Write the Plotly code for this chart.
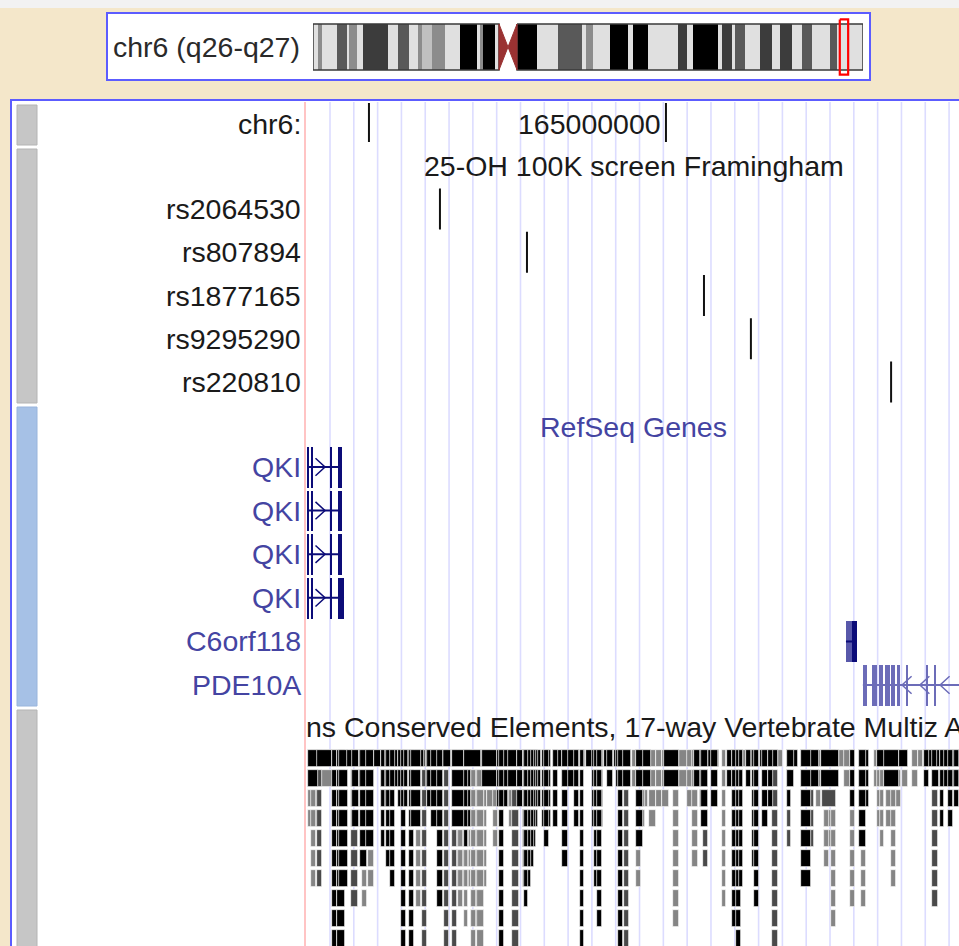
import plotly.graph_objects as go

W, H = 959, 946

# ---------------------------------------------------------------- data
# Ideogram (chr6, Mb)
CHROM_LABEL = "chr6 (q26-q27)"
CHROM_LEN_MB = 170.9
BAND_START_MB = [0.0, 1.6, 2.8, 7.5, 10.6, 11.2, 13.7, 15.5, 23.3, 26.4, 29.8, 32.6, 33.9, 37.0,
                 41.0, 45.7, 51.0, 51.9, 52.8, 56.6,
                 63.4, 69.6, 76.1, 83.6, 84.8, 87.0, 92.3, 97.9, 99.4, 104.1, 113.4, 116.2,
                 118.1, 125.9, 127.1, 130.2, 131.1, 134.2, 138.9, 142.6, 145.1, 148.8, 151.9,
                 155.1, 160.7, 162.8]
BAND_END_MB = [1.6, 2.8, 7.5, 10.6, 11.2, 13.7, 15.5, 23.3, 26.4, 29.8, 32.6, 33.9, 37.0, 41.0,
               45.7, 51.0, 51.9, 52.8, 56.6, 57.8,
               69.6, 76.1, 83.6, 84.8, 87.0, 92.3, 97.9, 99.4, 104.1, 113.4, 116.2, 118.1,
               125.9, 127.1, 130.2, 131.1, 134.2, 138.9, 142.6, 145.1, 148.8, 151.9, 155.1,
               160.7, 162.8, 170.9]
BAND_STAIN = ["gneg", "gpos50", "gneg", "gpos75", "gneg", "gpos50", "gneg", "gpos90", "gneg",
              "gpos75", "gneg", "gpos50", "gpos25", "gpos50", "gneg", "gpos100", "gneg",
              "gpos50", "gpos100", "gneg",
              "gpos100", "gneg", "gpos75", "gneg", "gpos50", "gneg", "gpos100", "gneg",
              "gpos100", "gneg", "gpos90", "gneg", "gpos100", "gneg", "gpos90", "gneg",
              "gpos75", "gneg", "gpos90", "gneg", "gpos90", "gneg", "gpos75", "gneg",
              "gpos75", "gneg"]
CENTROMERE_MB = [57.8, 63.4]

# Browser window (chr6 bp)
WINDOW_START = 164_878_800
WINDOW_END = 165_098_665
RULER_TITLE = "chr6:"
RULER_TICKS = [164_900_000, 165_000_000]
RULER_LABELS = ["", "165000000"]

SNP_TITLE = "25-OH 100K screen Framingham"
SNP_NAMES = ["rs2064530", "rs807894", "rs1877165", "rs9295290", "rs220810"]
SNP_POS = [164_923_900, 164_953_200, 165_012_800, 165_028_600, 165_075_800]

GENE_TITLE = "RefSeq Genes"
GENE_NAMES = ["QKI", "QKI", "QKI", "QKI", "C6orf118", "PDE10A"]
GENE_STRAND = ["+", "+", "+", "+", "-", "-"]
# positions below in kb from WINDOW_START
GENE_TX_KB = [(0.6, 12.1), (0.6, 12.1), (0.6, 12.1), (0.6, 12.8), (181.8, 185.5), (187.5, 240.0)]
GENE_EXONS_KB = [
    [(0.6, 1.1), (1.7, 2.4), (8.1, 8.8), (10.8, 12.1)],
    [(0.6, 1.1), (1.7, 2.4), (8.1, 8.8), (10.8, 12.1)],
    [(0.6, 1.1), (1.7, 2.4), (8.1, 8.8), (10.8, 12.1)],
    [(0.6, 1.1), (1.7, 2.4), (8.1, 8.8), (10.8, 12.8)],
    [(181.8, 183.8), (183.8, 185.5)],
    [(187.5, 188.9), (190.6, 192.3), (192.9, 194.3), (194.9, 196.6), (197.0, 198.3),
     (199.0, 200.0), (202.0, 202.7), (208.7, 209.4), (211.4, 212.1)],
]
GENE_ARROWS_KB = [[6.4], [6.4], [6.4], [6.4], [], [200.7, 206.7, 213.5]]
GENE_COLOR = ["#0c0c78", "#0c0c78", "#0c0c78", "#0c0c78", "#0c0c78", "#6c6cb8"]
GENE_EXON_LIGHT = [[], [], [], [], [0], []]   # exon indexes drawn in lighter shade

CONS_TITLE = "PhastCons Conserved Elements, 17-way Vertebrate Multiz Alignment"
CONS_START_KB = [1.0, 1.0, 2.0, 4.0, 4.0, 5.4, 9.1, 10.8, 11.4, 14.1, 15.5, 15.8, 18.2, 18.5, 19.2,
                 20.5, 21.2, 23.2, 25.6, 25.6, 25.3, 27.3, 28.6, 31.3, 31.3, 32.3, 33.3, 35.0,
                 35.4, 37.4, 39.4, 40.7, 40.7, 41.1, 42.4, 44.4, 46.8, 49.2, 49.2, 51.2, 51.5,
                 53.5, 53.5, 55.2, 55.9, 55.9, 57.9, 53.5, 59.3, 61.3, 63.0, 64.6, 64.6, 65.3,
                 68.0, 68.7, 69.7, 71.4, 73.1, 73.1, 73.1, 73.1, 73.7, 79.5, 80.5, 83.2, 83.2,
                 86.5, 86.5, 90.6, 92.3, 92.3, 94.6, 96.6, 97.3, 98.3, 100.7, 101.7, 104.0,
                 104.7, 105.1, 107.4, 109.8, 111.4, 111.4, 111.4, 113.1, 113.1, 115.8, 118.2,
                 120.2, 120.9, 123.6, 125.9, 128.6, 130.3, 131.0, 131.0, 132.7, 133.3, 133.7,
                 136.7, 140.1, 141.8, 143.8, 143.8, 145.1, 146.1, 146.8, 148.5, 148.5, 150.5,
                 150.5, 151.2, 152.9, 153.9, 155.6, 157.2, 158.9, 162.0, 162.0, 162.0, 162.0,
                 167.0, 167.0, 167.0, 172.0, 173.7, 174.1, 174.7, 174.7, 177.1, 179.8, 181.5,
                 183.2, 183.2, 186.5, 186.5, 187.2, 192.3, 191.6, 194.9, 192.3, 193.3, 195.6,
                 195.6, 197.3, 200.0, 201.0, 204.4, 206.1, 208.4, 208.4, 211.1, 211.1, 212.8,
                 213.5, 213.5, 216.2, 218.5]
CONS_END_KB = [3.7, 3.7, 3.0, 5.1, 8.4, 8.8, 10.4, 12.8, 13.8, 15.5, 17.2, 17.5, 22.6, 20.2, 20.2,
               22.6, 22.6, 31.0, 31.0, 28.3, 26.3, 28.3, 29.6, 39.4, 33.0, 33.3, 34.3, 36.0,
               38.4, 38.4, 40.7, 48.5, 45.8, 42.1, 45.8, 45.8, 48.1, 55.2, 50.5, 55.2, 52.5,
               54.5, 54.5, 60.9, 59.6, 56.9, 59.6, 58.6, 64.3, 64.6, 64.3, 71.0, 67.7, 66.3,
               71.4, 71.4, 71.4, 78.8, 77.8, 77.1, 76.4, 75.4, 74.7, 82.2, 81.5, 91.6, 84.5,
               91.6, 87.9, 91.6, 93.9, 93.3, 99.7, 99.7, 98.3, 99.3, 103.0, 103.0, 109.1,
               109.1, 106.4, 108.4, 111.4, 115.8, 113.1, 112.5, 114.8, 114.1, 117.5, 119.8,
               121.9, 125.3, 125.3, 130.3, 131.0, 131.7, 138.7, 135.0, 135.0, 135.0, 135.0,
               138.4, 141.1, 146.1, 146.8, 146.1, 146.1, 147.1, 147.8, 150.2, 149.5, 152.2,
               151.9, 152.2, 158.6, 155.2, 156.9, 158.6, 160.3, 163.0, 165.3, 164.0, 163.0,
               172.4, 170.7, 169.7, 173.1, 179.1, 178.1, 178.1, 175.8, 178.1, 183.8, 184.8,
               184.8, 184.8, 189.2, 188.2, 188.2, 199.3, 194.9, 199.3, 194.3, 194.3, 200.0,
               198.3, 198.3, 202.4, 202.4, 205.7, 207.4, 210.8, 209.4, 212.8, 212.5, 219.9,
               219.9, 214.5, 217.5, 219.5]
CONS_DEPTH = [4, 2, 7, 7, 1, 2, 10, 10, 7, 1, 8, 4, 2, 6, 8, 5, 7, 1, 2, 3, 5, 6, 7, 1, 3, 10, 3,
              10, 4, 8, 10, 1, 2, 3, 4, 8, 10, 4, 10, 7, 8, 9, 5, 7, 9, 10, 10, 1, 2, 3, 5, 2, 3,
              10, 3, 4, 10, 3, 4, 5, 6, 7, 8, 4, 5, 1, 4, 2, 6, 4, 1, 10, 1, 4, 7, 9, 1, 2, 1,
              2, 10, 10, 2, 2, 5, 7, 3, 4, 4, 3, 3, 2, 9, 2, 3, 6, 1, 2, 3, 4, 6, 3, 8, 2, 6, 9,
              10, 7, 1, 1, 2, 1, 6, 8, 1, 4, 3, 10, 1, 3, 1, 2, 5, 2, 5, 7, 3, 2, 3, 5, 6, 9, 1,
              2, 8, 3, 3, 5, 8, 1, 2, 2, 4, 5, 3, 4, 7, 1, 2, 2, 1, 1, 2, 2, 8, 1, 2, 4, 4, 3]
CONS_SHADE = ["g", "k", "g", "d", "k", "g", "k", "k", "k", "k", "d", "k", "k", "k", "g", "k", "g",
              "k", "k", "k", "k", "k", "k", "k", "k", "k", "k", "k", "k", "g", "d", "k", "k", "k",
              "k", "k", "d", "k", "d", "g", "g", "g", "k", "g", "g", "g", "g", "k", "k", "g", "g",
              "k", "k", "k", "g", "g", "d", "k", "k", "k", "k", "k", "k", "k", "k", "k", "k", "k",
              "k", "k", "k", "k", "k", "k", "k", "k", "k", "k", "k", "k", "k", "d", "g", "k", "k",
              "g", "g", "g", "g", "g", "g", "k", "g", "g", "g", "g", "k", "k", "k", "k", "d", "k",
              "g", "k", "k", "k", "k", "k", "g", "k", "k", "g", "k", "k", "k", "k", "k", "d", "g",
              "k", "k", "k", "d", "k", "d", "k", "g", "k", "d", "g", "g", "g", "g", "g", "g", "k",
              "k", "k", "g", "k", "g", "k", "g", "g", "g", "g", "g", "k", "g", "g", "g", "k", "k",
              "k", "d", "k", "k", "k", "k", "k"]
# element spans above were read from the dark area; half of the white
# separator between neighbouring elements belongs to each element
CONS_EDGE_KB = 0.2

# ---------------------------------------------------------------- style
FONT = "Liberation Sans, Arial, sans-serif"
FS = 28.5
BEIGE = "#f4e7ca"
PANEL_BLUE = "#5c5cff"
GUIDE = "#dcdcff"
STAIN_COLOR = {"gneg": "#e0e0e0", "gpos25": "#c0c0c0", "gpos50": "#8c8c8c",
               "gpos75": "#595959", "gpos90": "#3c3c3c", "gpos100": "#000000"}
SHADE_COLOR = {"g": "#858585", "d": "#4a4a4a", "k": "#000000"}
GENE_LABEL = "#4444a2"
TEXT = "#1a1a1a"
GUIDE_FIRST_KB, GUIDE_STEP_KB = 8.08, 8.017


def bp(kb):
    return WINDOW_START + kb * 1000.0


def ydom(top, bottom):
    return [1 - bottom / H, 1 - top / H]


fig = go.Figure()

# ---------------------------------------------------------------- ideogram
for stain in STAIN_COLOR:
    xs, ws = [], []
    for s, e, st in zip(BAND_START_MB, BAND_END_MB, BAND_STAIN):
        if st == stain:
            xs.append((s + e) / 2)
            ws.append(e - s)
    if xs:
        fig.add_trace(go.Bar(x=xs, y=[1] * len(xs), base=[0] * len(xs), width=ws,
                             marker=dict(color=STAIN_COLOR[stain], line=dict(width=0)),
                             xaxis="x2", yaxis="y5", hoverinfo="skip"))
c0, c1 = CENTROMERE_MB
cm = (c0 + c1) / 2
for a0, a1 in [(0, c0), (c1, CHROM_LEN_MB)]:
    fig.add_trace(go.Scatter(x=[a0, a1, a1, a0, a0], y=[0, 0, 1, 1, 0], mode="lines",
                             line=dict(color="#3a3a3a", width=1.5), xaxis="x2", yaxis="y5",
                             hoverinfo="skip"))
fig.add_trace(go.Scatter(x=[c0, cm, c0, c0, None, c1, cm, c1, c1],
                         y=[0, 0.5, 1, 0, None, 0, 0.5, 1, 0], mode="lines", fill="toself",
                         fillcolor="#9a3232", line=dict(color="#9a3232", width=1),
                         xaxis="x2", yaxis="y5", hoverinfo="skip"))
win_mid = (WINDOW_START + WINDOW_END) / 2e6
fig.add_trace(go.Scatter(x=[win_mid - 1.3, win_mid + 1.3, win_mid + 1.3, win_mid - 1.3, win_mid - 1.3],
                         y=[-0.1, -0.1, 1.1, 1.1, -0.1], mode="lines",
                         line=dict(color="#ff0000", width=2.2), xaxis="x2", yaxis="y5",
                         hoverinfo="skip"))

# ---------------------------------------------------------------- ruler
rx, ry = [], []
for t in RULER_TICKS:
    rx += [t, t, None]
    ry += [0.07, 0.95, None]
fig.add_trace(go.Scatter(x=rx, y=ry, mode="lines", line=dict(color="#111", width=2),
                         xaxis="x", yaxis="y", hoverinfo="skip"))

# ---------------------------------------------------------------- SNP track
sx, sy = [], []
for i, p in enumerate(SNP_POS):
    r = i + 1
    sx += [p, p, None]
    sy += [r - 0.475, r + 0.475, None]
fig.add_trace(go.Scatter(x=sx, y=sy, mode="lines", line=dict(color="#111", width=2),
                         xaxis="x", yaxis="y2", hoverinfo="skip"))

# ---------------------------------------------------------------- genes
for g, name in enumerate(GENE_NAMES):
    r = g + 1
    col = GENE_COLOR[g]
    t0, t1 = GENE_TX_KB[g]
    fig.add_trace(go.Scatter(x=[bp(t0), bp(t1)], y=[r, r], mode="lines",
                             line=dict(color=col, width=2), xaxis="x", yaxis="y3",
                             hoverinfo="skip"))
    ax, ay = [], []
    w, h = 3.2, 0.2
    for a in GENE_ARROWS_KB[g]:
        d = -w if GENE_STRAND[g] == "+" else w
        ax += [bp(a + d), bp(a), bp(a + d), None]
        ay += [r - h, r, r + h, None]
    if ax:
        fig.add_trace(go.Scatter(x=ax, y=ay, mode="lines", line=dict(color=col, width=1.5),
                                 xaxis="x", yaxis="y3", hoverinfo="skip"))
    for k, (e0, e1) in enumerate(GENE_EXONS_KB[g]):
        ecol = "#5858aa" if k in GENE_EXON_LIGHT[g] else col
        fig.add_trace(go.Bar(x=[bp((e0 + e1) / 2)], y=[0.94], base=[r - 0.47],
                             width=[(e1 - e0) * 1000], marker=dict(color=ecol, line=dict(width=0)),
                             xaxis="x", yaxis="y3", hoverinfo="skip"))

# ---------------------------------------------------------------- conservation
for shade in ["g", "d", "k"]:
    xs, ws, bs = [], [], []
    for s, e, dpt, sh in zip(CONS_START_KB, CONS_END_KB, CONS_DEPTH, CONS_SHADE):
        if sh != shade:
            continue
        s, e = s - CONS_EDGE_KB, e + CONS_EDGE_KB
        for row in range(dpt):
            xs.append(bp((s + e) / 2))
            ws.append((e - s) * 1000)
            bs.append(row)
    fig.add_trace(go.Bar(x=xs, y=[0.85] * len(xs), base=bs, width=ws,
                         marker=dict(color=SHADE_COLOR[shade], line=dict(color="white", width=0.7)),
                         xaxis="x", yaxis="y4", hoverinfo="skip"))
title_x = bp(110.4)
fig.add_trace(go.Scatter(x=[title_x], y=[-1.0], mode="text", text=[CONS_TITLE],
                         textposition="middle center", cliponaxis=True,
                         textfont=dict(family=FONT, size=FS, color=TEXT),
                         xaxis="x", yaxis="y4", hoverinfo="skip"))

# ---------------------------------------------------------------- text labels
ann = []
def label(text, y, yref, color=TEXT):
    ann.append(dict(text=text, x=302.5 / W, xref="paper", xanchor="right", y=y, yref=yref,
                    yanchor="middle", showarrow=False, font=dict(family=FONT, size=FS, color=color)))

label(RULER_TITLE, 0.54, "y")
for t, lab in zip(RULER_TICKS, RULER_LABELS):
    if lab:
        ann.append(dict(text=lab, x=t, xref="x", xanchor="right", xshift=-3, y=0.54, yref="y",
                        yanchor="middle", showarrow=False,
                        font=dict(family=FONT, size=FS, color=TEXT)))
ann.append(dict(text=SNP_TITLE, x=title_x, xref="x", xanchor="center", y=0, yref="y2",
                yanchor="middle", showarrow=False, font=dict(family=FONT, size=FS, color=TEXT)))
for i, n in enumerate(SNP_NAMES):
    label(n, i + 1, "y2")
ann.append(dict(text=GENE_TITLE, x=title_x, xref="x", xanchor="center", y=0.09, yref="y3",
                yanchor="middle", showarrow=False, font=dict(family=FONT, size=FS, color=GENE_LABEL)))
for g, n in enumerate(GENE_NAMES):
    label(n, g + 1, "y3", GENE_LABEL)
ann.append(dict(text=CHROM_LABEL, x=111 / W, xref="paper", xanchor="left", y=1 - 47 / H,
                yref="paper", yanchor="middle", showarrow=False,
                font=dict(family=FONT, size=FS, color="#2a2a2a")))

# ---------------------------------------------------------------- decorations
shapes = []
def prect(x0, y0, x1, y1, fill, line=None, lw=0, layer="below"):
    shapes.append(dict(type="rect", xref="paper", yref="paper", x0=x0 / W, x1=x1 / W,
                       y0=1 - y1 / H, y1=1 - y0 / H, fillcolor=fill, layer=layer,
                       line=dict(color=line or fill, width=lw)))

prect(0, 0, W, 8, "#f2f2f2")
prect(107, 13, 870, 80, "white", PANEL_BLUE, 2)
prect(11, 100, W + 5, H + 5, "white", PANEL_BLUE, 2)
prect(17, 105, 37, 145, "#c6c6c6", "#b4b4b4", 1)
prect(17, 149, 37, 403, "#c6c6c6", "#b4b4b4", 1)
prect(17, 407, 37, 706, "#a6c1e6", "#98b4dc", 1)
prect(17, 710, 37, H + 5, "#c6c6c6", "#b4b4b4", 1)
shapes.append(dict(type="line", xref="paper", yref="paper", x0=305 / W, x1=305 / W,
                   y0=0, y1=1 - 102 / H, line=dict(color="#ffc4c4", width=2), layer="below"))
k = GUIDE_FIRST_KB
while k < (WINDOW_END - WINDOW_START) / 1000:
    shapes.append(dict(type="line", xref="x", yref="paper", x0=bp(k), x1=bp(k),
                       y0=0, y1=1 - 102 / H, line=dict(color=GUIDE, width=1.6), layer="below"))
    k += GUIDE_STEP_KB

hidden = dict(visible=False, showgrid=False, zeroline=False, fixedrange=True)
fig.update_layout(
    width=W, height=H, margin=dict(l=0, r=0, t=0, b=0),
    paper_bgcolor=BEIGE, plot_bgcolor="rgba(0,0,0,0)",
    showlegend=False, barmode="overlay", bargap=0,
    annotations=ann, shapes=shapes,
    xaxis=dict(domain=[306 / W, 1], range=[WINDOW_START, WINDOW_END], anchor="y", **hidden),
    xaxis2=dict(domain=[313 / W, 863 / W], range=[0, CHROM_LEN_MB], anchor="y5", **hidden),
    yaxis=dict(domain=ydom(100, 144.2), range=[1, 0], anchor="x", **hidden),
    yaxis2=dict(domain=ydom(144.2, 403.6), range=[5.5, -0.5], anchor="x", **hidden),
    yaxis3=dict(domain=ydom(401.6, 706.8), range=[6.5, -0.5], anchor="x", **hidden),
    yaxis4=dict(domain=ydom(708, H), range=[9.8, -2.1], anchor="x", **hidden),
    yaxis5=dict(domain=ydom(15, 79), range=[1.196, -0.196], anchor="x2", **hidden),
)

fig.write_html("out.html", config={"displayModeBar": False},
               post_script="document.body.style.margin='0';document.body.style.overflow='hidden';")
